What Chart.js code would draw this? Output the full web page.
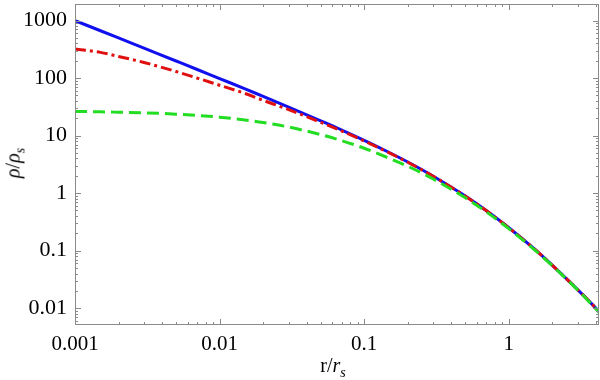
<!DOCTYPE html>
<html>
<head>
<meta charset="utf-8">
<script src="https://cdn.jsdelivr.net/npm/chart.js@4/dist/chart.umd.min.js"></script>
<style>
  body { margin: 0; background: #fff; }
  #wrap { position: relative; width: 600px; height: 380px; }
  .axt { position: absolute; font-family: "Liberation Serif", serif; font-size: 20px; color: #000; white-space: nowrap; }
  #xt { left: 333px; top: 354px; transform: translateX(-50%); }
  #yt { left: 15px; top: 163px; transform: translate(-50%, -50%) rotate(-90deg); }
  sub { font-size: 14px; }
</style>
</head>
<body>
<div id="wrap">
  <canvas id="chart" width="600" height="380"></canvas>
  <div class="axt" id="xt">r/<i>r</i><sub><i>s</i></sub></div>
  <div class="axt" id="yt"><i>ρ</i>/<i>ρ</i><sub><i>s</i></sub></div>
</div>
<script>
// radius r/rs
const radii = [0.001, 0.0015, 0.002, 0.003, 0.005, 0.007, 0.01, 0.015, 0.02, 0.03, 0.05, 0.07, 0.1, 0.15, 0.2, 0.3, 0.5, 0.7, 1, 1.5, 2, 3, 4.2];
// density curves
const solidBlue = [998, 665, 498, 331, 198, 141, 98, 65, 48, 31.4, 18.1, 12.5, 8.26, 5.03, 3.47, 1.97, 0.889, 0.494, 0.25, 0.107, 0.0556, 0.0208, 0.0088];
const dashDotRed = [322, 280, 238, 187, 130, 100, 75, 54, 41, 28.3, 17.0, 12.0, 8.05, 4.97, 3.44, 1.96, 0.885, 0.493, 0.249, 0.107, 0.0555, 0.0208, 0.0088];
const dashedGreen = [26.3, 25.9, 25.5, 24.9, 23.6, 22.4, 20.9, 18.7, 16.9, 14.1, 10.4, 8.16, 6.03, 4.0, 2.93, 1.76, 0.828, 0.470, 0.241, 0.104, 0.0545, 0.0206, 0.0085];

const xMajor = [0.001, 0.01, 0.1, 1];
const yMajor = [0.01, 0.1, 1, 10, 100, 1000];

function pts(vals) {
    return radii.map((r, i) => ({ x: r, y: vals[i] }));
}

// frame + inward log ticks on all four sides
const framePlugin = {
    id: 'frame',
    afterDraw(chart) {
        const ctx = chart.ctx;
        const a = chart.chartArea;
        const xs = chart.scales.x, ys = chart.scales.y;
        ctx.save();
        ctx.strokeStyle = '#8a8a8a';
        ctx.lineWidth = 1;
        ctx.strokeRect(a.left + 0.5, a.top + 0.5, a.right - a.left - 1, a.bottom - a.top - 1);
        function minorList(lo, hi) {
            const out = [];
            for (let e = Math.floor(Math.log10(lo)); e <= Math.ceil(Math.log10(hi)); e++) {
                for (let m = 1; m <= 9; m++) {
                    const v = m * Math.pow(10, e);
                    if (v >= lo && v <= hi) out.push({ v: v, major: m === 1 });
                }
            }
            return out;
        }
        ctx.beginPath();
        minorList(xs.min, xs.max).forEach(t => {
            const px = Math.round(xs.getPixelForValue(t.v)) + 0.5;
            const len = t.major ? 6 : 3;
            ctx.moveTo(px, a.bottom); ctx.lineTo(px, a.bottom - len);
            ctx.moveTo(px, a.top); ctx.lineTo(px, a.top + len);
        });
        minorList(ys.min, ys.max).forEach(t => {
            const py = Math.round(ys.getPixelForValue(t.v)) + 0.5;
            const len = t.major ? 6 : 3;
            ctx.moveTo(a.left, py); ctx.lineTo(a.left + len, py);
            ctx.moveTo(a.right, py); ctx.lineTo(a.right - len, py);
        });
        ctx.stroke();
        ctx.restore();
    }
};

const ctx = document.getElementById('chart').getContext('2d');
new Chart(ctx, {
    type: 'line',
    data: {
        datasets: [
            { data: pts(dashedGreen), borderColor: '#22dd22', borderWidth: 3, borderDash: [12, 6] },
            { data: pts(dashDotRed), borderColor: '#e01010', borderWidth: 3, borderDash: [11, 4, 3, 4] },
            { data: pts(solidBlue), borderColor: '#1010ee', borderWidth: 3 }
        ]
    },
    options: {
        responsive: false,
        animation: false,
        events: [],
        layout: { padding: { top: 4, right: 1, bottom: 0, left: 0 } },
        elements: { point: { radius: 0 }, line: { cubicInterpolationMode: 'monotone', fill: false } },
        plugins: { legend: { display: false }, tooltip: { enabled: false } },
        scales: {
            x: {
                type: 'logarithmic', min: 0.001, max: 4.2,
                grid: { display: false, drawTicks: false },
                border: { display: false },
                afterBuildTicks: s => { s.ticks = xMajor.map(v => ({ value: v })); },
                afterFit: s => { s.height = 55; s.paddingLeft = 0; s.paddingRight = 0; },
                ticks: {
                    color: '#000', padding: 7, maxRotation: 0,
                    font: { family: 'Liberation Serif', size: 21 },
                    callback: v => String(v)
                }
            },
            y: {
                type: 'logarithmic', min: 0.0051, max: 1940,
                grid: { display: false, drawTicks: false },
                border: { display: false },
                afterBuildTicks: s => { s.ticks = yMajor.map(v => ({ value: v })); },
                afterFit: s => { s.width = 75; s.paddingTop = 0; s.paddingBottom = 0; },
                ticks: {
                    color: '#000', padding: 8,
                    font: { family: 'Liberation Serif', size: 22 },
                    callback: v => String(v)
                }
            }
        }
    },
    plugins: [framePlugin]
});
</script>
</body>
</html>
